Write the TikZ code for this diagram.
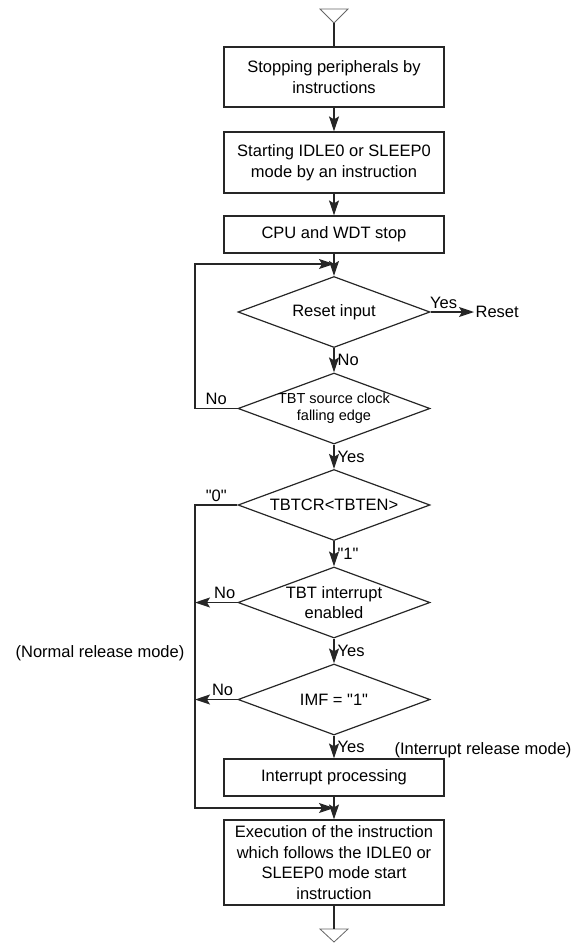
\documentclass[tikz,border=0pt]{standalone}
\usepackage{fontspec}
\setmainfont{Liberation Sans}
\usetikzlibrary{shapes.geometric,arrows.meta}

\begin{document}
\begin{tikzpicture}[x=1pt, y=-1pt,
                    line width=1.2pt, line join=miter,
                    every node/.style={font=\fontsize{16.5}{20.5}\selectfont},
                    box/.style={draw=black!85, minimum width=220pt, align=center, inner sep=2pt},
                    decision/.style={draw=black!85, diamond, aspect=2.7, minimum width=192pt,
                                     minimum height=71pt, align=center, inner sep=-3pt},
                    flow/.style={draw=black!85, -{Stealth[length=15pt,width=10pt,inset=3pt]}},
                    tag/.style={inner sep=3pt},
                    terminal/.style={draw=black!60, line width=0.8pt}]
  \useasboundingbox (0,0) rectangle (574,945);
  \def\xc{334}
  \def\q{\textquotedbl}
  \coordinate (rail) at (195,0);

  % entry mark
  \coordinate (entry) at (\xc,23);
  \draw[terminal] (320,9) -- (348,9) -- (entry) -- cycle;

  % steps
  \node[box, minimum height=60pt] (stop)  at (\xc,77)    {Stopping peripherals by\\instructions};
  \node[box, minimum height=61pt] (start) at (\xc,162.5) {Starting IDLE0 or SLEEP0\\mode by an instruction};
  \node[box, minimum height=37pt] (cpu)   at (\xc,234.5) {CPU and WDT stop};

  % decisions
  \node[decision] (reset)  at (\xc,312)   {Reset input};
  \node[decision, font=\fontsize{14.5}{17}\selectfont]
                  (edge)   at (\xc,408.5) {TBT source clock\\falling edge};
  \node[decision] (tbten)  at (\xc,505)   {TBTCR<TBTEN>};
  \node[decision] (tbtint) at (\xc,602.5) {TBT interrupt\\enabled};
  \node[decision] (imf)    at (\xc,699.5) {IMF = \q1\q};

  \node[box, minimum height=37pt] (intproc) at (\xc,777.5) {Interrupt processing};
  \node[box, minimum height=85pt] (exec)    at (\xc,862.5)
    {Execution of the instruction\\which follows the IDLE0 or\\SLEEP0 mode start\\instruction};

  \node[anchor=west, inner sep=1pt] (resout) at (474,312) {Reset};
  \node (normal) at (100,653) {(Normal release mode)};
  \node (intrel) at (483,750) {(Interrupt release mode)};

  \coordinate (loopin) at (\xc,264);
  \coordinate (join)   at (\xc,808);

  % exit mark
  \coordinate (exit) at (\xc,929);
  \draw[terminal] (320,929) -- (348,929) -- (\xc,942) -- cycle;

  % main flow
  \draw[draw=black!85] (entry) -- (stop);
  \draw[flow] (stop) -- (start);
  \draw[flow] (start) -- (cpu);
  \draw[flow] (cpu) -- (reset);
  \draw[flow] (reset) -- node[tag, right] {No} (edge);
  \draw[flow] (edge) -- node[tag, right] {Yes} (tbten);
  \draw[flow] (tbten) -- node[tag, right] {\q1\q} (tbtint);
  \draw[flow] (tbtint) -- node[tag, right] {Yes} (imf);
  \draw[flow] (imf) -- node[tag, right] {Yes} (intproc);
  \draw[flow] (intproc) -- (exec);
  \draw[draw=black!85] (exec) -- (exit);

  % branches
  \draw[flow] (reset.east) -- node[tag, above, pos=0.3] {Yes} (resout.west);
  \draw[flow] (edge.west) -- node[tag, above] {No} (edge.west -| rail) |- (loopin);
  \draw[flow] (tbten.west) -- node[tag, above] {\q0\q} (tbten.west -| rail) |- (join);
  \draw[flow] (tbtint.west) -- node[tag, above, pos=0.3] {No} (tbtint.west -| rail);
  \draw[flow] (imf.west) -- node[tag, above, pos=0.35] {No} (imf.west -| rail);

\end{tikzpicture}
\end{document}
